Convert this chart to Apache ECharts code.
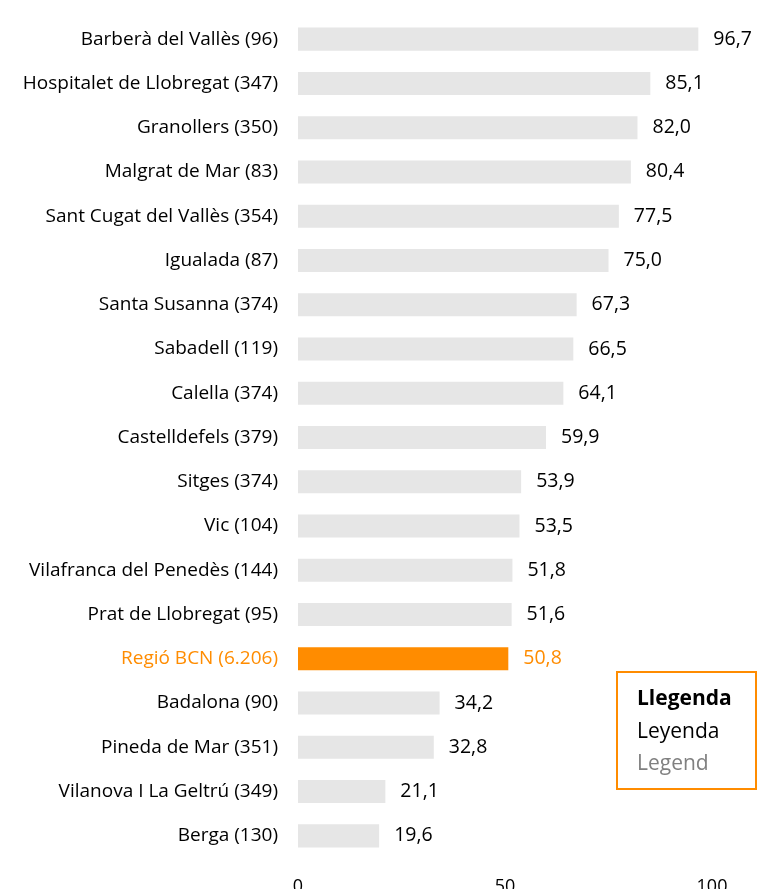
<!DOCTYPE html>
<html>
<head>
<meta charset="utf-8">
<script src="https://cdn.jsdelivr.net/npm/echarts@6/dist/echarts.min.js"></script>
<style>
    html, body { margin: 0; padding: 0; background: #fff; }
    #chart { width: 771px; height: 889px; }
</style>
</head>
<body>
<div id="chart"></div>
<script>
// municipis (mostra)
var categories = [
    "Barberà del Vallès (96)",
    "Hospitalet de Llobregat (347)",
    "Granollers (350)",
    "Malgrat de Mar (83)",
    "Sant Cugat del Vallès (354)",
    "Igualada (87)",
    "Santa Susanna (374)",
    "Sabadell (119)",
    "Calella (374)",
    "Castelldefels (379)",
    "Sitges (374)",
    "Vic (104)",
    "Vilafranca del Penedès (144)",
    "Prat de Llobregat (95)",
    "Regió BCN (6.206)",
    "Badalona (90)",
    "Pineda de Mar (351)",
    "Vilanova I La Geltrú (349)",
    "Berga (130)"
];
var values = [96.7, 85.1, 82.0, 80.4, 77.5, 75.0, 67.3, 66.5, 64.1, 59.9, 53.9, 53.5, 51.8, 51.6, 50.8, 34.2, 32.8, 21.1, 19.6];
var highlight = "Regió BCN (6.206)";
var legendLines = ["Llegenda", "Leyenda", "Legend"];

var ORANGE = "#ff8c00";
var GREY = "#e6e6e6";
var FONT = "Open Sans";

var chart = echarts.init(document.getElementById("chart"));

var option = {
    animation: false,
    textStyle: { fontFamily: FONT },
    grid: { left: 298, right: 59, top: 17, bottom: 31, containLabel: false, outerBoundsMode: "none" },
    xAxis: {
        type: "value",
        min: 0,
        max: 100,
        interval: 50,
        axisLine: { show: false },
        axisTick: { show: false },
        splitLine: { show: false },
        axisLabel: { color: "#000", fontSize: 18, fontFamily: FONT, margin: 20 }
    },
    yAxis: {
        type: "category",
        inverse: true,
        data: categories,
        axisLine: { show: false },
        axisTick: { show: false },
        axisLabel: {
            fontSize: 19,
            fontFamily: FONT,
            margin: 20,
            color: function (v) { return v === highlight ? ORANGE : "#000"; }
        }
    },
    series: [{
        type: "bar",
        barCategoryGap: "48%",
        data: values.map(function (v, i) {
            var hi = categories[i] === highlight;
            return {
                value: v,
                itemStyle: { color: hi ? ORANGE : GREY },
                label: { color: hi ? ORANGE : "#000" }
            };
        }),
        label: {
            show: true,
            position: "right",
            distance: 15,
            fontSize: 19.5,
            fontFamily: FONT,
            formatter: function (p) { return p.value.toFixed(1).replace(".", ","); }
        }
    }],
    graphic: [{
        type: "group",
        left: 616,
        top: 671,
        children: [
            {
                type: "rect",
                shape: { x: 0, y: 0, width: 139, height: 117 },
                style: { fill: "#fff", stroke: ORANGE, lineWidth: 2 }
            },
            {
                type: "text", x: 20, y: 17,
                style: { text: legendLines[0], fontSize: 21, fontWeight: "bold", fontFamily: FONT, fill: "#000" }
            },
            {
                type: "text", x: 20, y: 50,
                style: { text: legendLines[1], fontSize: 21, fontFamily: FONT, fill: "#000" }
            },
            {
                type: "text", x: 20, y: 82,
                style: { text: legendLines[2], fontSize: 21, fontFamily: FONT, fill: "#808080" }
            }
        ]
    }]
};

chart.setOption(option);
</script>
</body>
</html>
